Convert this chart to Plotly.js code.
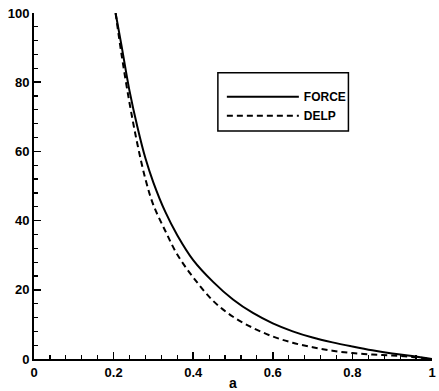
<!DOCTYPE html>
<html>
<head>
<meta charset="utf-8">
<script src="https://cdn.plot.ly/plotly-3.0.1.min.js"></script>
<style>html,body{margin:0;padding:0;background:#fff;}#chart{width:439px;height:391px;}</style>
</head>
<body>
<div id="chart"></div>
<script>
var aValues = [0.205,0.22,0.24,0.26,0.28,0.30,0.33,0.36,0.40,0.45,0.50,0.55,0.60,0.65,0.70,0.75,0.80,0.85,0.90,0.95,1.0];
var forceValues = [100,90.5,77.5,67,58,51,42.5,35.8,28.6,22.3,17.2,13.3,10.3,8.0,6.2,4.8,3.6,2.5,1.6,0.9,0];
var delpValues = [100,88,74,62,52,44.5,37,30.2,23.6,16.8,12.2,9.0,6.5,4.7,3.4,2.4,1.7,1.3,1.0,0.6,0];
var seriesNames = ["FORCE", "DELP"];
var xTickVals = [0,0.2,0.4,0.6,0.8,1];
var xTickText = ["0","0.2","0.4","0.6","0.8","1"];
var yTickVals = [0,20,40,60,80,100];
var yTickText = ["0","20","40","60","80","100"];

var fontFam = "Liberation Sans, Arial, sans-serif";
var traces = [
  {x: aValues, y: forceValues, name: seriesNames[0], mode: "lines", type: "scatter",
   line: {color: "#000", width: 2, shape: "spline", smoothing: 1}},
  {x: aValues, y: delpValues, name: seriesNames[1], mode: "lines", type: "scatter",
   line: {color: "#000", width: 2, dash: "6px,4px", shape: "spline", smoothing: 1}}
];
var layout = {
  width: 439, height: 391,
  margin: {l: 34, r: 7, t: 13, b: 32},
  paper_bgcolor: "#fff", plot_bgcolor: "#fff",
  font: {family: fontFam, color: "#000", size: 13, weight: "bold"},
  showlegend: true,
  legend: {x: 0.472, y: 0.80, xanchor: "left", yanchor: "top", bgcolor: "rgba(0,0,0,0)",
           borderwidth: 0, itemwidth: 72, font: {family: fontFam, size: 12, weight: "bold", color: "#000"},
           tracegroupgap: 0},
  shapes: [{type: "rect", xref: "paper", yref: "paper", x0: 0.462, x1: 0.79, y0: 0.659, y1: 0.827,
            line: {color: "#000", width: 1.5}}],
  xaxis: {range: [0, 1], tickvals: xTickVals, ticktext: xTickText, ticks: "inside", ticklen: 7, tickwidth: 1.5,
          tickcolor: "#000", showline: true, linecolor: "#000", linewidth: 2, showgrid: false, zeroline: false,
          mirror: false, tickfont: {family: fontFam, size: 13, weight: "bold"},
          minor: {dtick: 0.04, tick0: 0, ticks: "inside", ticklen: 4, tickwidth: 1.2, tickcolor: "#000", showgrid: false},
          title: {text: "a", font: {family: fontFam, size: 14, weight: "bold"}, standoff: 2}},
  yaxis: {range: [0, 100], tickvals: yTickVals, ticktext: yTickText, ticks: "inside", ticklen: 7, tickwidth: 1.5,
          tickcolor: "#000", showline: true, linecolor: "#000", linewidth: 2, showgrid: false, zeroline: false,
          tickfont: {family: fontFam, size: 13, weight: "bold"},
          minor: {dtick: 4, tick0: 0, ticks: "inside", ticklen: 4, tickwidth: 1.2, tickcolor: "#000", showgrid: false}}
};
Plotly.newPlot("chart", traces, layout, {displayModeBar: false, staticPlot: true});
</script>
</body>
</html>
